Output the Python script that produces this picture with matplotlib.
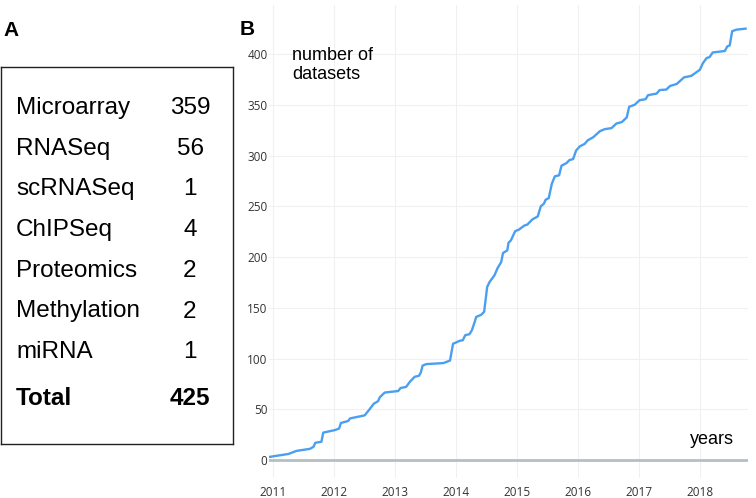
import matplotlib
matplotlib.use("Agg")
import matplotlib.pyplot as plt
import numpy as np

# panel A table
categories = ["Microarray", "RNASeq", "scRNASeq", "ChIPSeq", "Proteomics", "Methylation", "miRNA"]
counts = [359, 56, 1, 4, 2, 2, 1]
total_label = "Total"
total_count = 425

# panel B: cumulative number of datasets (decimal years)
years = [2010.93, 2011.25, 2011.38, 2011.60, 2011.66, 2011.69, 2011.79, 2011.82,
         2012.01, 2012.08, 2012.11, 2012.23, 2012.26, 2012.50, 2012.58, 2012.65,
         2012.72, 2012.75, 2012.83, 2013.05, 2013.09, 2013.18, 2013.24, 2013.32,
         2013.39, 2013.42, 2013.45, 2013.51, 2013.79, 2013.90, 2013.95, 2014.06,
         2014.11, 2014.15, 2014.22, 2014.26, 2014.31, 2014.33, 2014.41, 2014.46,
         2014.51, 2014.55, 2014.63, 2014.68, 2014.74, 2014.77, 2014.84, 2014.86,
         2014.90, 2014.97, 2015.03, 2015.12, 2015.17, 2015.25, 2015.34, 2015.39,
         2015.44, 2015.47, 2015.52, 2015.57, 2015.62, 2015.69, 2015.73, 2015.81,
         2015.86, 2015.92, 2015.97, 2016.03, 2016.11, 2016.16, 2016.25, 2016.36,
         2016.44, 2016.55, 2016.63, 2016.72, 2016.80, 2016.84, 2016.93, 2017.01,
         2017.11, 2017.15, 2017.29, 2017.34, 2017.45, 2017.51, 2017.62, 2017.74,
         2017.86, 2018.00, 2018.05, 2018.11, 2018.16, 2018.21, 2018.41, 2018.45,
         2018.49, 2018.53, 2018.60, 2018.75]
datasets = [3, 6, 9, 11, 13, 17, 18, 27,
            29.5, 31, 36.5, 38.5, 41, 44, 50, 55.5,
            58, 62, 66.5, 68, 71, 72, 77, 82,
            83, 86, 93, 94.5, 95.5, 98, 114.5, 117.5,
            118, 123, 124, 128, 137, 141, 143, 146,
            170.5, 175.5, 182, 189, 195, 204, 206.5, 214,
            216.5, 225.5, 227, 231, 232, 237, 240, 250,
            252.5, 256.5, 258, 272, 279.5, 280.5, 290, 292.5,
            295.5, 296.5, 305, 309, 311.5, 315, 318, 324,
            326, 327, 331.5, 333, 337.5, 348, 350, 354.5,
            355.5, 359.5, 361, 364.5, 365, 368.5, 370.5, 377,
            378.5, 384.5, 391, 396, 397, 401.5, 403, 407.5,
            408.5, 422.5, 424, 425]
year_ticks = [2011, 2012, 2013, 2014, 2015, 2016, 2017, 2018]
value_ticks = [0, 50, 100, 150, 200, 250, 300, 350, 400]

W, H = 756, 498
fig = plt.figure(figsize=(W / 100, H / 100), dpi=100)
txt_font = "Liberation Sans"

# ---- panel A ----
axa = fig.add_axes([1 / W, 1 - 444 / H, 232 / W, 377 / H])
axa.set_xlim(1, 233)
axa.set_ylim(444, 67)
axa.set_xticks([])
axa.set_yticks([])
for s in axa.spines.values():
    s.set_linewidth(1.0)
    s.set_color("#222222")
row_y0, row_step = 108, 40.7
for i, (cat, n) in enumerate(zip(categories, counts)):
    y = row_y0 + i * row_step
    axa.text(16, y, cat, fontsize=17.5, family=txt_font, va="center", ha="left")
    axa.text(190, y, str(n), fontsize=17.5, family=txt_font, va="center", ha="center")
ty = row_y0 + (len(categories) - 1) * row_step + 46
axa.text(16, ty, total_label, fontsize=17.5, family=txt_font, weight="bold", va="center")
axa.text(190, ty, str(total_count), fontsize=17.5, family=txt_font, weight="bold",
         va="center", ha="center")

fig.text(3 / W, 1 - 36 / H, "A", fontsize=15, family=txt_font, weight="bold")
fig.text(240 / W, 1 - 35 / H, "B", fontsize=15, family=txt_font, weight="bold")

# ---- panel B ----
axb = fig.add_axes([269 / W, 1 - 478 / H, 479 / W, 473 / H])
axb.plot(years, datasets, color="#4a9ff0", lw=1.7, zorder=3)
axb.axhline(0, color="#b3bfc4", lw=2, zorder=2)
axb.set_xlim(2010.93, 2018.79)
axb.set_ylim(-17.7, 448.3)
axb.set_xticks(year_ticks)
axb.set_yticks(value_ticks)
axb.grid(True, color="#f0f0f0", lw=0.8)
axb.set_axisbelow(True)
for s in axb.spines.values():
    s.set_visible(False)
axb.tick_params(length=0, labelsize=8.5, labelcolor="#333333", pad=1)
axb.tick_params(axis="x", pad=6)
for lab in axb.get_xticklabels() + axb.get_yticklabels():
    lab.set_family("Open Sans")

fig.text(292 / W, 1 - 47 / H, "number of\ndatasets", fontsize=13, family=txt_font,
         va="top", ha="left", linespacing=1.15)
fig.text(690 / W, 1 - 444 / H, "years", fontsize=13, family=txt_font,
         va="baseline", ha="left")

fig.savefig("out.png", dpi=100)
